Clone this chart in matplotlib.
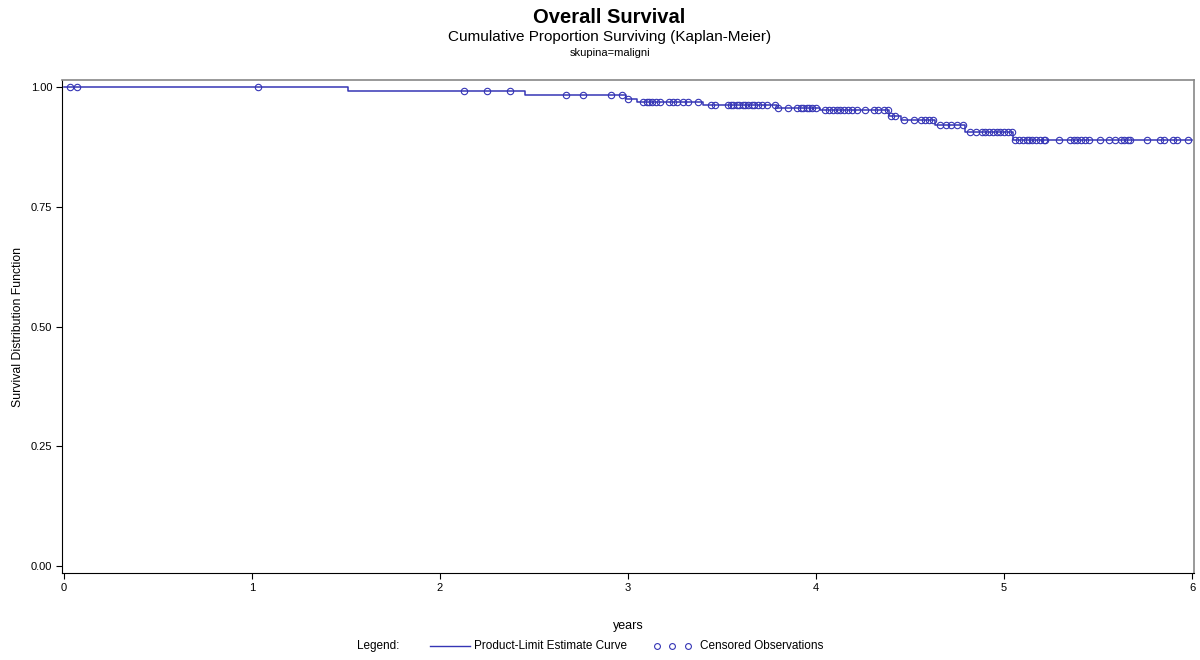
import numpy as np
import matplotlib
matplotlib.use("Agg")
import matplotlib.pyplot as plt
from matplotlib.lines import Line2D

plt.rcParams['font.family'] = ['Liberation Sans', 'DejaVu Sans']

# Kaplan-Meier steps (time in years, survival after the step)
step_times = [0.0, 1.51, 2.45, 2.99, 3.05, 3.40, 3.79, 4.02, 4.39, 4.45, 4.63, 4.79, 5.05, 6.0]
step_surv = [1.0, 0.991, 0.983, 0.976, 0.968, 0.963, 0.957, 0.952, 0.940, 0.931, 0.921, 0.906, 0.889, 0.889]

# censored observation times
cens_times = [0.03, 0.07, 1.03,
              2.13, 2.25, 2.37,
              2.67, 2.76, 2.91, 2.97, 3.00,
              3.08, 3.10, 3.11, 3.13, 3.15, 3.17, 3.22, 3.24, 3.26, 3.29, 3.32, 3.37,
              3.44, 3.46, 3.53, 3.55, 3.56, 3.58, 3.59, 3.61, 3.62, 3.64, 3.66, 3.67,
              3.69, 3.71, 3.74, 3.78,
              3.80, 3.85, 3.90, 3.92, 3.93, 3.95, 3.96, 3.98, 4.00,
              4.05, 4.07, 4.09, 4.11, 4.13, 4.15, 4.17, 4.19, 4.22, 4.26, 4.31, 4.33, 4.36, 4.38,
              4.40, 4.42, 4.47, 4.52, 4.56, 4.58, 4.60, 4.62, 4.66, 4.69, 4.72, 4.75, 4.78,
              4.82, 4.85, 4.88, 4.90, 4.92, 4.94, 4.96, 4.98, 5.00, 5.02, 5.04,
              5.06, 5.08, 5.10, 5.12, 5.13, 5.15, 5.17, 5.19, 5.21, 5.22, 5.29,
              5.35, 5.37, 5.39, 5.41, 5.43, 5.45, 5.51, 5.56, 5.59, 5.62, 5.64, 5.66, 5.67,
              5.76, 5.83, 5.85, 5.90, 5.92, 5.98]

x_ticks = [0, 1, 2, 3, 4, 5, 6]
y_ticks = [0.0, 0.25, 0.5, 0.75, 1.0]

blue = '#3535b5'

fig = plt.figure(figsize=(12, 6.6), dpi=100)
ax = fig.add_axes([0.0517, 0.1318, 0.9433, 0.747])

ax.step(step_times, step_surv, where='post', color=blue, lw=1.1)

# censored points sit on the curve
idx = np.searchsorted(step_times, cens_times, side='right') - 1
cens_surv = np.array(step_surv)[idx]
ax.plot(cens_times, cens_surv, 'o', ls='none', mfc='none', mec=blue, ms=4.6, mew=0.8)

ax.set_xlim(-0.01, 6.01)
ax.set_ylim(-0.015, 1.015)
ax.set_xticks(x_ticks)
ax.set_xticklabels([str(t) for t in x_ticks])
ax.set_yticks(y_ticks)
ax.set_yticklabels(['%.2f' % v for v in y_ticks])
ax.tick_params(labelsize=8, length=4, width=0.8, direction='out', pad=3)
for s in ['top', 'right']:
    ax.spines[s].set_color('#888888')
    ax.spines[s].set_linewidth(1.2)
for s in ['left', 'bottom']:
    ax.spines[s].set_color('black')
    ax.spines[s].set_linewidth(0.8)

ax.set_xlabel('years', fontsize=9)
ax.xaxis.set_label_coords(0.5, -0.095)
ax.set_ylabel('Survival Distribution Function', fontsize=8.8)
ax.yaxis.set_label_coords(-0.034, 0.5)

fig.text(0.508, 0.973, 'Overall Survival', ha='center', va='center', fontsize=14.5, fontweight='bold')
fig.text(0.508, 0.944, 'Cumulative Proportion Surviving (Kaplan-Meier)', ha='center', va='center', fontsize=11)
fig.text(0.508, 0.920, 'skupina=maligni', ha='center', va='center', fontsize=8)

# legend row along the bottom
ly = 1 - 646 / 660
fig.text(357 / 1200, ly, 'Legend:', ha='left', va='center', fontsize=8.5)
fig.add_artist(Line2D([430 / 1200, 470 / 1200], [ly, ly], color=blue, lw=1))
fig.text(474 / 1200, ly, 'Product-Limit Estimate Curve', ha='left', va='center', fontsize=8.5)
fig.add_artist(Line2D([657 / 1200, 672 / 1200, 688 / 1200], [ly] * 3, ls='none', marker='o',
                      mfc='none', mec=blue, ms=4.2, mew=0.8))
fig.text(700 / 1200, ly, 'Censored Observations', ha='left', va='center', fontsize=8.5)

fig.savefig('out.png', dpi=100)
